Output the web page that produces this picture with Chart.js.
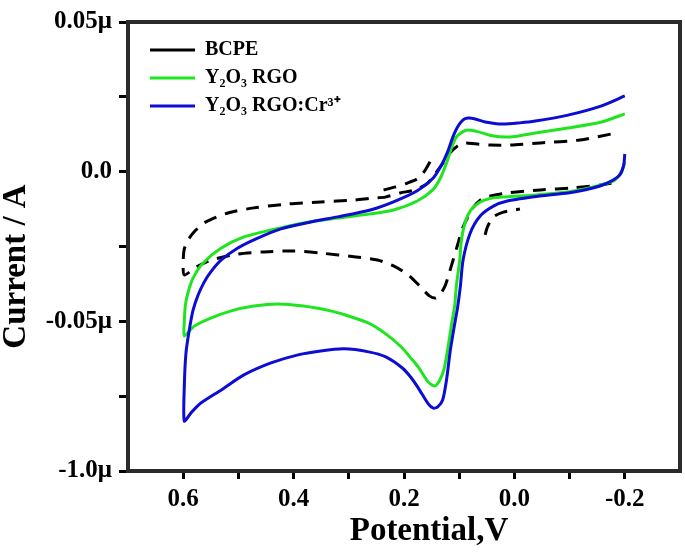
<!DOCTYPE html>
<html><head><meta charset="utf-8">
<script src="https://cdn.jsdelivr.net/npm/chart.js@4.4.1/dist/chart.umd.min.js"></script>
<style>html,body{margin:0;padding:0;background:#fff}#wrap{width:685px;height:554px;position:relative}</style>
</head><body><div id="wrap"><canvas id="c"></canvas></div>
<script>
const seriesNames = ['BCPE', 'Y\u2082O\u2083 RGO', 'Y\u2082O\u2083 RGO:Cr\u00B3\u207A'];

// BCPE (null = gap between separately traced segments)
const bcpeX = [-0.176,-0.160,-0.106,-0.047,0.013,0.056,0.074,0.093,0.103,0.111,0.118,0.125,0.134,0.143,0.154,0.170,0.192,0.219,0.248,0.287,0.351,0.400,0.454,0.501,0.549,0.576,0.598,0.600,0.598,0.591,0.580,0.562,0.519,0.472,0.410,0.351,0.292,0.257,0.234,0.207,0.180,0.157,0.141,0.128,0.117,0.103,0.089,0.071,0.044,0.008,-0.047,-0.119,-0.176,
  0.2, 0.237,0.215,0.194,0.176,0.165,0.158,0.152, 0.1, 0.053,0.049,0.038,0.020,-0.010];
const bcpeY = [-0.0038,-0.0044,-0.0054,-0.0061,-0.0071,-0.0088,-0.0118,-0.0185,-0.0245,-0.0295,-0.0338,-0.0379,-0.0409,-0.0422,-0.0415,-0.0385,-0.0345,-0.0315,-0.0295,-0.0285,-0.0272,-0.0265,-0.0268,-0.0275,-0.0295,-0.0318,-0.0345,-0.0302,-0.0258,-0.0228,-0.0201,-0.0171,-0.0138,-0.0121,-0.0108,-0.0101,-0.0095,-0.0088,-0.0085,-0.0071,-0.0061,-0.0038,-0.0001,0.0032,0.0062,0.0086,0.0096,0.0093,0.0089,0.0089,0.0096,0.0106,0.0126,
  null, -0.0061,-0.0051,-0.0038,-0.0024,-0.0004,0.0016,0.0036, null, -0.0211,-0.0185,-0.0151,-0.0135,-0.0125];

// Y2O3 RGO
const rgoX = [-0.200,-0.194,-0.182,-0.169,-0.137,-0.097,-0.038,0.022,0.047,0.065,0.080,0.089,0.096,0.099,0.105,0.108,0.114,0.121,0.128,0.136,0.145,0.156,0.174,0.188,0.203,0.233,0.264,0.306,0.333,0.382,0.429,0.472,0.513,0.550,0.580,0.598,
  0.598,0.596,0.591,0.582,0.564,0.531,0.490,0.441,0.382,0.320,0.261,0.219,0.176,0.148,0.134,0.123,0.114,0.105,0.094,0.084,0.065,0.038,0.008,-0.038,-0.097,-0.158,-0.200];
const rgoY = [0.0032,-0.0001,-0.0028,-0.0038,-0.0054,-0.0068,-0.0078,-0.0085,-0.0091,-0.0105,-0.0131,-0.0168,-0.0228,-0.0295,-0.0379,-0.0445,-0.0512,-0.0596,-0.0663,-0.0699,-0.0716,-0.0703,-0.0653,-0.0622,-0.0589,-0.0542,-0.0506,-0.0479,-0.0465,-0.0449,-0.0442,-0.0449,-0.0465,-0.0489,-0.0516,-0.0549,
  -0.0502,-0.0445,-0.0402,-0.0355,-0.0305,-0.0255,-0.0218,-0.0195,-0.0171,-0.0155,-0.0141,-0.0128,-0.0098,-0.0061,-0.0021,0.0029,0.0079,0.0116,0.0133,0.0139,0.0133,0.0119,0.0116,0.0129,0.0146,0.0166,0.0193];

// Y2O3 RGO:Cr3+
const crX = [-0.200,-0.198,-0.191,-0.179,-0.155,-0.127,-0.097,-0.046,0.013,0.038,0.062,0.080,0.093,0.098,0.103,0.107,0.116,0.123,0.130,0.139,0.147,0.156,0.174,0.188,0.203,0.233,0.264,0.309,0.351,0.392,0.441,0.490,0.531,0.568,0.586,0.598,
  0.598,0.595,0.589,0.582,0.573,0.562,0.550,0.531,0.501,0.465,0.423,0.369,0.320,0.261,0.219,0.176,0.147,0.132,0.121,0.112,0.103,0.093,0.084,0.071,0.053,0.022,-0.010,-0.038,-0.097,-0.158,-0.200];
const crY = [0.0059,0.0022,-0.0011,-0.0028,-0.0048,-0.0061,-0.0071,-0.0081,-0.0098,-0.0115,-0.0148,-0.0205,-0.0295,-0.0385,-0.0455,-0.0496,-0.0596,-0.0696,-0.0763,-0.0786,-0.0790,-0.0776,-0.0723,-0.0686,-0.0656,-0.0619,-0.0602,-0.0592,-0.0599,-0.0612,-0.0639,-0.0679,-0.0729,-0.0773,-0.0806,-0.0833,
  -0.0719,-0.0606,-0.0529,-0.0462,-0.0412,-0.0369,-0.0335,-0.0295,-0.0255,-0.0222,-0.0191,-0.0168,-0.0151,-0.0128,-0.0101,-0.0064,-0.0021,0.0022,0.0066,0.0113,0.0149,0.0173,0.0179,0.0176,0.0166,0.0159,0.0163,0.0169,0.0189,0.0220,0.0253];

const xTickValues = [0.6, 0.5, 0.4, 0.3, 0.2, 0.1, 0.0, -0.1, -0.2];
const xTickLabels = ['0.6', '', '0.4', '', '0.2', '', '0.0', '', '-0.2'];
const yTickValues = [0.05, 0.025, 0.0, -0.025, -0.05, -0.075, -0.1];
const yTickLabels = ['0.05\u03BC', '', '0.0', '', '-0.05\u03BC', '', '-1.0\u03BC'];

const xTitle = 'Potential,V';
const yTitle = 'Current / A';

const pts = (xs, ys) => xs.map((x, i) => ({x: x, y: ys[i]}));
const FONT = "'Liberation Serif', 'Times New Roman', serif";

const layoutTweaks = {
  id: 'layoutTweaks',
  afterLayout(chart) {
    const a = chart.chartArea;
    if (chart.legend) { chart.legend.left = a.left + 14; chart.legend.top = a.top + 10; }
    const shift = (s, dx, dy) => {
      if (!s || s._shifted) return;
      const orig = s.drawTitle;
      s.drawTitle = function () { const c = this.ctx; c.save(); c.translate(dx, dy); orig.apply(this, arguments); c.restore(); };
      s._shifted = true;
    };
    shift(chart.scales.x, 25, 0);
    shift(chart.scales.y, 0, 20);
  },
  afterDraw(chart) {
    const a = chart.chartArea, c = chart.ctx;
    c.save();
    c.globalAlpha = 1; c.globalCompositeOperation = 'source-over'; c.setLineDash([]);
    c.strokeStyle = '#2b2b2b'; c.lineWidth = 4;
    c.strokeRect(a.left, a.top, a.right - a.left, a.bottom - a.top);
    c.restore();
  }
};

new Chart(document.getElementById('c'), {
  type: 'scatter',
  data: {
    datasets: [
      {label: seriesNames[0], data: pts(bcpeX, bcpeY), borderColor: '#000000', backgroundColor: '#000000', borderWidth: 3, borderDash: [13, 9], showLine: true, pointRadius: 0, tension: 0.25, order: 3},
      {label: seriesNames[1], data: pts(rgoX, rgoY), borderColor: '#1fe51f', backgroundColor: '#1fe51f', borderWidth: 3, showLine: true, pointRadius: 0, tension: 0.25, order: 2},
      {label: seriesNames[2], data: pts(crX, crY), borderColor: '#0c0cd4', backgroundColor: '#0c0cd4', borderWidth: 3, showLine: true, pointRadius: 0, tension: 0.25, order: 1}
    ]
  },
  options: {
    responsive: true, maintainAspectRatio: false, animation: false,
    layout: {padding: {left: 0, right: 5, top: 22, bottom: 0}},
    plugins: {
      tooltip: {enabled: false},
      legend: {
        position: 'chartArea', align: 'start',
        labels: {usePointStyle: true, pointStyle: 'line', pointStyleWidth: 45, boxWidth: 45, padding: 8, color: '#000',
          font: {family: FONT, size: 20, weight: 'bold'}, sort: (a, b) => a.datasetIndex - b.datasetIndex}
      }
    },
    scales: {
      x: {
        type: 'linear', position: 'bottom', reverse: true, min: -0.3, max: 0.7,
        afterFit: s => { s.height = 83; },
        afterBuildTicks: s => { s.ticks = xTickValues.map(v => ({value: v})); },
        ticks: {autoSkip: false, maxRotation: 0, padding: 6, color: '#000', font: {family: FONT, size: 25, weight: 'bold'}, callback: (v, i) => xTickLabels[i]},
        grid: {drawOnChartArea: false, drawTicks: true, tickLength: 8, lineWidth: 3, tickWidth: 3, color: '#000'},
        border: {display: true, color: '#000', width: 4},
        title: {display: true, text: xTitle, color: '#000', padding: {top: 0, bottom: 6}, font: {family: FONT, size: 33, weight: 'bold', lineHeight: 1}}
      },
      y: {
        type: 'linear', position: 'left', min: -0.1, max: 0.05,
        afterFit: s => { s.width = 128; },
        afterBuildTicks: s => { s.ticks = yTickValues.map(v => ({value: v})); },
        ticks: {autoSkip: false, padding: 7, color: '#000', font: {family: FONT, size: 25, weight: 'bold'}, callback: (v, i) => yTickLabels[i]},
        grid: {drawOnChartArea: false, drawTicks: true, tickLength: 9, lineWidth: 3, tickWidth: 3, color: '#000'},
        border: {display: true, color: '#000', width: 4},
        title: {display: true, text: yTitle, color: '#000', padding: {top: 0, bottom: 0}, font: {family: FONT, size: 33, weight: 'bold', lineHeight: 1}}
      }
    }
  },
  plugins: [layoutTweaks]
});
</script>
</body></html>
